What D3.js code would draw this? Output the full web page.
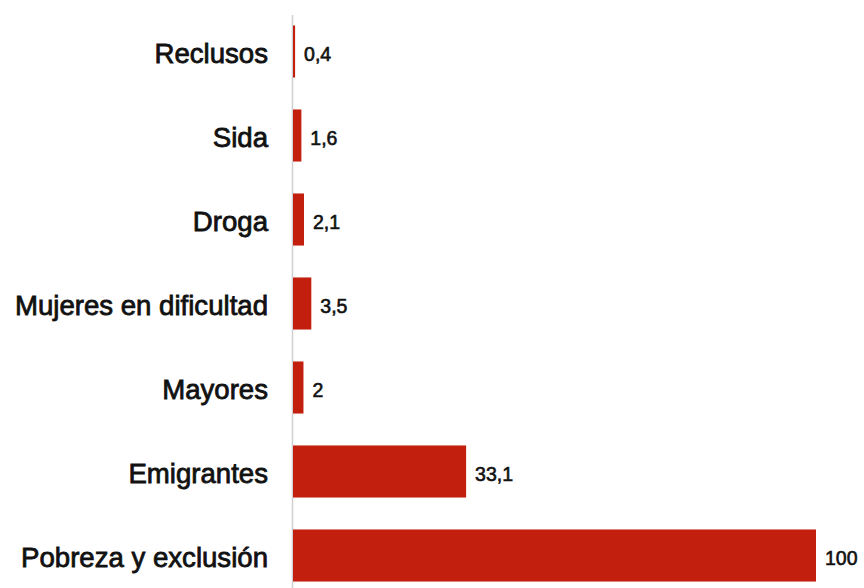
<!DOCTYPE html>
<html><head><meta charset="utf-8">
<script src="https://cdn.jsdelivr.net/npm/d3@7"></script>
<style>body{margin:0;background:#fff;}svg{display:block;}</style>
</head><body>
<script>
const categories = ["Reclusos","Sida","Droga","Mujeres en dificultad","Mayores","Emigrantes","Pobreza y exclusión"];
const values = [0.4,1.6,2.1,3.5,2,33.1,100];
const valueLabels = ["0,4","1,6","2,1","3,5","2","33,1","100"];

const W=864,H=588;
const x0=293;
const svg=d3.select("body").append("svg").attr("width",W).attr("height",H);
const x=d3.scaleLinear().domain([0,100]).range([x0,816]);
const y=d3.scaleBand().domain(categories).range([9.5,597.5]).paddingInner(0.38).paddingOuter(0.19);

svg.append("line").attr("x1",x0-0.5).attr("x2",x0-0.5).attr("y1",15).attr("y2",H)
  .attr("stroke","#cfcfd4").attr("stroke-width",1.5);

svg.selectAll("rect.bar").data(values).join("rect").attr("class","bar")
  .attr("x",x(0)).attr("y",(d,i)=>y(categories[i]))
  .attr("width",d=>x(d)-x(0)).attr("height",y.bandwidth())
  .attr("fill","#c21f0e");

svg.selectAll("text.cat").data(categories).join("text").attr("class","cat")
  .attr("x",268).attr("y",d=>y(d)+y.bandwidth()/2).attr("dy","0.42em")
  .attr("text-anchor","end").attr("font-family","Liberation Sans, Arial, sans-serif")
  .attr("font-size",27.6).attr("fill","#111").attr("stroke","#111").attr("stroke-width",0.8)
  .text(d=>d);

svg.selectAll("text.val").data(values).join("text").attr("class","val")
  .attr("x",d=>x(d)+9).attr("y",(d,i)=>y(categories[i])+y.bandwidth()/2).attr("dy","0.5em")
  .attr("font-family","Liberation Sans, Arial, sans-serif")
  .attr("font-size",19.5).attr("fill","#111").attr("stroke","#111").attr("stroke-width",0.6)
  .text((d,i)=>valueLabels[i]);
</script>
</body></html>
